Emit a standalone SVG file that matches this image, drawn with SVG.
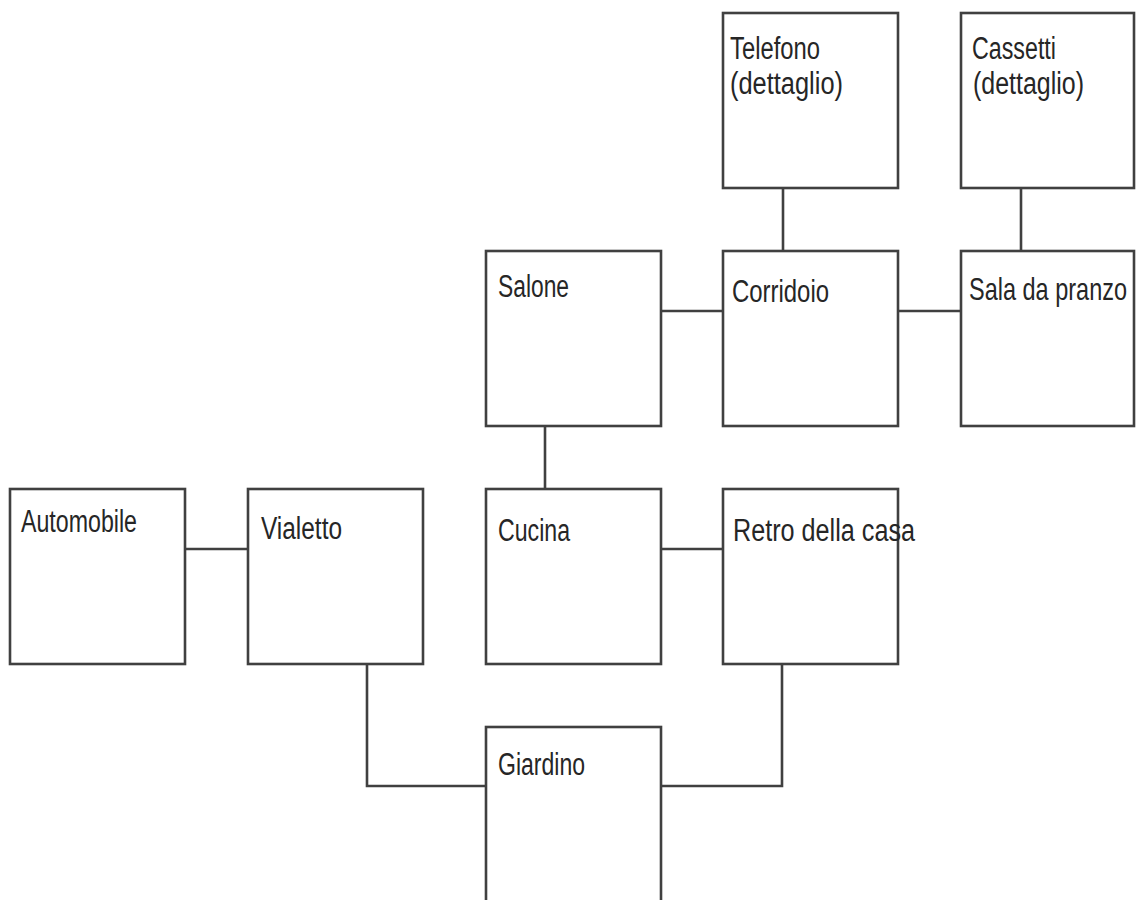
<svg xmlns="http://www.w3.org/2000/svg" width="1136" height="900" viewBox="0 0 1136 900">
<style>
.box{fill:#fff;stroke:#404040;stroke-width:2.6}
.lbl{font-family:"Liberation Sans","DejaVu Sans",sans-serif;font-size:31px;fill:#262626}
.conn{fill:none;stroke:#404040;stroke-width:2.6}
</style>
<rect width="1136" height="900" fill="#fff"/>
<g id="connectors">
<line class="conn" x1="783" y1="188" x2="783" y2="251"/>
<line class="conn" x1="1021" y1="188" x2="1021" y2="251"/>
<line class="conn" x1="661" y1="311" x2="723" y2="311"/>
<line class="conn" x1="898" y1="311" x2="961" y2="311"/>
<line class="conn" x1="545" y1="426" x2="545" y2="489"/>
<line class="conn" x1="185" y1="549" x2="248" y2="549"/>
<line class="conn" x1="661" y1="549" x2="723" y2="549"/>
<path class="conn" d="M367 664 V786 H486"/>
<path class="conn" d="M782 664 V786 H661"/>
</g>
<g id="telefono"><rect class="box" x="723" y="13" width="175" height="175"/>
<text class="lbl" x="730" y="59" textLength="90" lengthAdjust="spacingAndGlyphs">Telefono</text>
<text class="lbl" x="730" y="94" textLength="113" lengthAdjust="spacingAndGlyphs">(dettaglio)</text></g>
<g id="cassetti"><rect class="box" x="961" y="13" width="173" height="175"/>
<text class="lbl" x="972" y="59" textLength="84" lengthAdjust="spacingAndGlyphs">Cassetti</text>
<text class="lbl" x="973" y="94" textLength="111" lengthAdjust="spacingAndGlyphs">(dettaglio)</text></g>
<g id="salone"><rect class="box" x="486" y="251" width="175" height="175"/>
<text class="lbl" x="498" y="297" textLength="71" lengthAdjust="spacingAndGlyphs">Salone</text></g>
<g id="corridoio"><rect class="box" x="723" y="251" width="175" height="175"/>
<text class="lbl" x="732" y="302" textLength="97" lengthAdjust="spacingAndGlyphs">Corridoio</text></g>
<g id="sala"><rect class="box" x="961" y="251" width="173" height="175"/>
<text class="lbl" transform="translate(969,300) scale(1,1.3)" x="0" y="0" style="font-size:24px" textLength="158" lengthAdjust="spacingAndGlyphs">Sala da pranzo</text></g>
<g id="automobile"><rect class="box" x="10" y="489" width="175" height="175"/>
<text class="lbl" x="21" y="532" textLength="116" lengthAdjust="spacingAndGlyphs">Automobile</text></g>
<g id="vialetto"><rect class="box" x="248" y="489" width="175" height="175"/>
<text class="lbl" x="261" y="539" textLength="81" lengthAdjust="spacingAndGlyphs">Vialetto</text></g>
<g id="cucina"><rect class="box" x="486" y="489" width="175" height="175"/>
<text class="lbl" x="498" y="541" textLength="72" lengthAdjust="spacingAndGlyphs">Cucina</text></g>
<g id="retro"><rect class="box" x="723" y="489" width="175" height="175"/>
<text class="lbl" x="733" y="541" textLength="182" lengthAdjust="spacingAndGlyphs">Retro della casa</text></g>
<g id="giardino"><rect class="box" x="486" y="727" width="175" height="175"/>
<text class="lbl" x="498" y="775" textLength="87" lengthAdjust="spacingAndGlyphs">Giardino</text></g>
</svg>
